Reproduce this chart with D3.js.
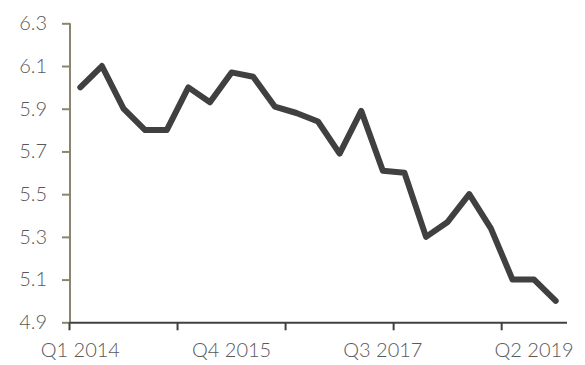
<html>
  <head>
    <meta charset='utf-8'>
    <script src='https://d3js.org/d3.v7.min.js'></script>
    <style>
      body { margin: 0; background: #fff; }
      .tick text { font-family: Lato, 'Open Sans', sans-serif; font-size: 20px; font-weight: 300; fill: #595959; }
    </style>
  </head>
  <body>
    <div id='chart'></div>
    <script>
        // quarterly values, Q1 2014 .. Q3 2019
        const quarters = ['Q1 2014','Q2 2014','Q3 2014','Q4 2014',
                          'Q1 2015','Q2 2015','Q3 2015','Q4 2015',
                          'Q1 2016','Q2 2016','Q3 2016','Q4 2016',
                          'Q1 2017','Q2 2017','Q3 2017','Q4 2017',
                          'Q1 2018','Q2 2018','Q3 2018','Q4 2018',
                          'Q1 2019','Q2 2019','Q3 2019'];
        const values = [6.0, 6.1, 5.9, 5.8, 5.8, 6.0, 5.93, 6.07, 6.05, 5.91, 5.88, 5.84,
                        5.69, 5.89, 5.61, 5.6, 5.3, 5.37, 5.5, 5.34, 5.1, 5.1, 5.0];
        const yTicks = [4.9, 5.1, 5.3, 5.5, 5.7, 5.9, 6.1, 6.3];
        const labelEvery = 7;   // category labels
        const tickEvery = 5;    // tick marks

        const width = 585, height = 365;
        const svg = d3.select('#chart').append('svg')
                      .attr('width', width)
                      .attr('height', height);

        const x = d3.scaleBand()
                    .domain(quarters)
                    .range([69.5, 566.5]);
        const y = d3.scaleLinear()
                    .domain([4.9, 6.3])
                    .range([322.3, 23.3]);

        // y axis
        const yAxis = svg.append('g')
            .attr('transform', 'translate(70,0)')
            .call(d3.axisLeft(y).tickValues(yTicks).tickFormat(d3.format('.1f'))
                    .tickSize(8).tickPadding(15).tickSizeOuter(0));
        yAxis.selectAll('line, path').attr('stroke', '#8c8470').attr('stroke-width', 2);
        yAxis.select('.domain').attr('d', 'M0,' + y(6.3) + 'V' + y(4.9));

        // x axis labels (centered on categories)
        const xAxis = svg.append('g')
            .attr('transform', 'translate(0,' + y(4.9) + ')')
            .call(d3.axisBottom(x)
                    .tickValues(quarters.filter((d, i) => i % labelEvery === 0))
                    .tickSize(0).tickPadding(21).tickSizeOuter(0));
        xAxis.select('.domain').attr('stroke', '#404040').attr('stroke-width', 2);

        // tick marks at category boundaries
        svg.append('g').selectAll('line')
            .data(quarters.filter((d, i) => i % tickEvery === 0))
            .join('line')
            .attr('x1', d => x(d)).attr('x2', d => x(d))
            .attr('y1', y(4.9)).attr('y2', y(4.9) + 8)
            .attr('stroke', '#404040').attr('stroke-width', 2);

        // series line
        const line = d3.line()
            .x((d, i) => x(quarters[i]) + x.bandwidth() / 2)
            .y(d => y(d));
        svg.append('path')
            .datum(values)
            .attr('d', line)
            .attr('fill', 'none')
            .attr('stroke', '#404040')
            .attr('stroke-width', 6)
            .attr('stroke-linejoin', 'round')
            .attr('stroke-linecap', 'round');
    </script>
  </body>
</html>
